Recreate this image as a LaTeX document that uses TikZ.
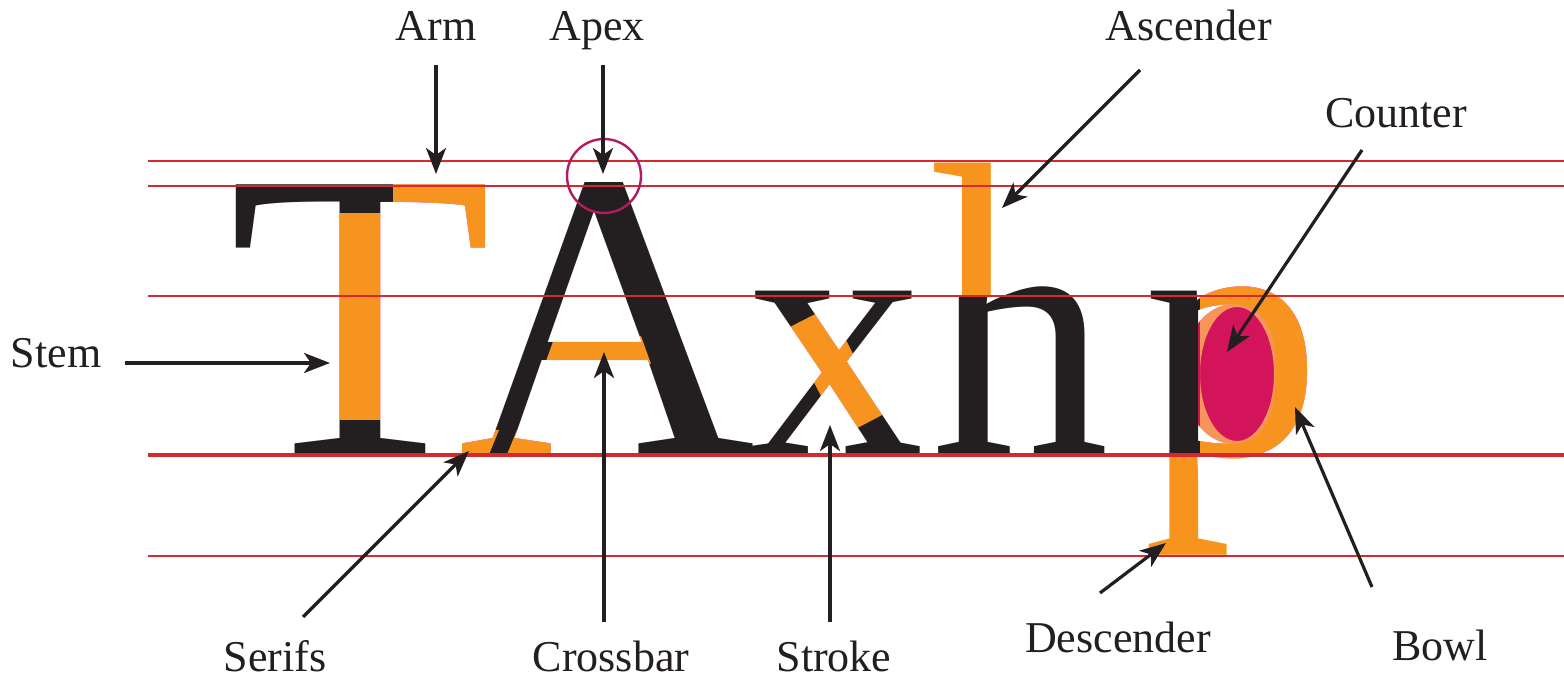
\documentclass[tikz,border=0pt]{standalone}
\usepackage{fontspec}
\setmainfont{Liberation Serif}
\usepackage{graphicx}
\usetikzlibrary{arrows.meta, calc}

\definecolor{inkblack}{HTML}{231F20}
\definecolor{partorange}{HTML}{F7941D}
\definecolor{counterpink}{HTML}{D4145A}
\definecolor{guidered}{HTML}{D42A2F}
\definecolor{ringred}{HTML}{B31B5E}

\newcommand{\capglyphs}{\fontsize{206}{206}\selectfont}
\newcommand{\lcglyphs}{\fontsize{178}{178}\selectfont}
\newcommand{\inkleft}[1]{\XeTeXglyphbounds1 \XeTeXcharglyph`#1 }

\begin{document}
\begin{tikzpicture}[
        x=0.5pt, y=-0.5pt,
        glyph/.style={
            inner sep=0pt,
            outer sep=0pt,
            anchor=base,
            text=inkblack
        },
        hilite/.style={
            glyph,
            text=partorange
        },
        tint/.style={
            fill=partorange,
            blend mode=lighten
        },
        term/.style={
            inner sep=0pt,
            anchor=base,
            font=\fontsize{22}{22}\selectfont,
            text=inkblack
        },
        guide/.style={
            guidered,
            line width=0.65pt
        },
        pointer/.style={
            -{Stealth[length=13pt, width=10pt, inset=3.5pt]},
            line width=1.6pt,
            inkblack
        }
    ]
    \useasboundingbox (0,0) rectangle (1564,678);
    \fill[white] (0,0) rectangle (1564,678);

    % letters
    \node[glyph, font=\capglyphs] (T) at (361,455) {\scalebox{1.05}[1]{T}};
    \node[glyph, font=\capglyphs] (A) at (607,455) {A};
    \node[glyph, font=\lcglyphs] (x) at (835,455) {x};
    \begin{scope}
        \clip (998,140) -- (1140,140) -- (1140,470) -- (900,470) -- (900,296) -- (998,296) -- cycle;
        \node[glyph, font=\lcglyphs] (h) at (1020,455) {h};
    \end{scope}
    \begin{scope}
        \clip (900,140) rectangle (998,296);
        \node[hilite, font=\lcglyphs, anchor=base west] (ascpart) at (h.base west)
            {\kern\dimexpr\inkleft{h}-\inkleft{l}\relax\scalebox{1}[1.18]{l}};
    \end{scope}

    % p with its counter
    \fill[counterpink] (1234,374) ellipse [x radius=52, y radius=70];
    \begin{scope}
        \clip (1100,250) rectangle (1340,456);
        \node[glyph, font=\lcglyphs] (p) at (1232,455) {p};
    \end{scope}
    \begin{scope}
        \clip (1100,456) rectangle (1340,600);
        \node[hilite, font=\lcglyphs] (desc) at (p.base) {\scalebox{1}[1.33]{p}};
    \end{scope}

    % highlighted parts
    \fill[tint] (393,170) rectangle (500,300);
    \fill[tint] (330,213) rectangle (392,420);
    \fill[tint] (545,364) -- (555,336) -- (641,336) -- (651,364) -- cycle;
    \fill[tint] (440,457) -- (488,457) -- (499,430) -- (440,430) -- cycle;
    \fill[tint] (506,457) -- (565,457) -- (565,430) -- (517,430) -- cycle;
    \fill[tint] (786,329) -- (829,307) -- (884,414) -- (842,436) -- cycle;
    \fill[tint, even odd rule] (1200,250) rectangle (1340,456)
        (1237,374) ellipse [x radius=37, y radius=67];

    % guide lines
    \foreach \gy in {161,186,296,556}
        \draw[guide] (148,\gy) -- (1564,\gy);
    \draw[guide, line width=1.9pt] (148,455) -- (1564,455);

    \draw[ringred, line width=1.2pt] (604,176) circle [radius=37];

    % terms
    \node[term] (arm) at (436,41) {Arm};
    \node[term] (apex) at (597,41) {Apex};
    \node[term] (ascender) at (1189,41) {Ascender};
    \node[term] (counter) at (1396,128) {Counter};
    \node[term] (stem) at (56,368) {Stem};
    \node[term] (serifs) at (275,671) {Serifs};
    \node[term] (crossbar) at (611,671) {Crossbar};
    \node[term] (stroke) at (834,671) {Stroke};
    \node[term] (descender) at (1118,652) {Descender};
    \node[term] (bowl) at (1440,660) {Bowl};

    \coordinate (arm-tip) at (436,174);
    \coordinate (apex-tip) at (603,174);
    \coordinate (ascender-tip) at (1002,208);
    \coordinate (counter-tip) at (1227,352);
    \coordinate (stem-tip) at (330,363);
    \coordinate (serifs-tip) at (469,451);
    \coordinate (crossbar-tip) at (604,352);
    \coordinate (stroke-tip) at (830,425);
    \coordinate (descender-tip) at (1166,543);
    \coordinate (bowl-tip) at (1295,407);

    \draw[pointer] ($(arm.base)+(0,24)$) -- (arm-tip);
    \draw[pointer] ($(apex.base)+(6,24)$) -- (apex-tip);
    \draw[pointer] ($(ascender.base)+(-49,29)$) -- (ascender-tip);
    \draw[pointer] ($(counter.base)+(-34,22)$) -- (counter-tip);
    \draw[pointer] ($(stem.base)+(69,-5)$) -- (stem-tip);
    \draw[pointer] ($(serifs.base)+(28,-54)$) -- (serifs-tip);
    \draw[pointer] ($(crossbar.base)+(-7,-49)$) -- (crossbar-tip);
    \draw[pointer] ($(stroke.base)+(-4,-49)$) -- (stroke-tip);
    \draw[pointer] ($(descender.base)+(-18,-59)$) -- (descender-tip);
    \draw[pointer] ($(bowl.base)+(-68,-73)$) -- (bowl-tip);
\end{tikzpicture}
\end{document}
